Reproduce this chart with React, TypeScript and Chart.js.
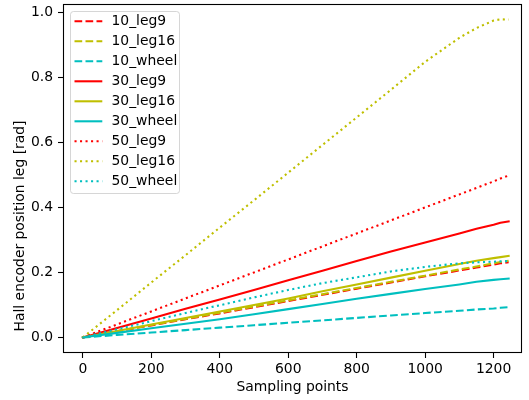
import React, { useEffect, useRef } from 'react';
import { Chart, registerables } from 'chart.js';

Chart.register(...registerables);

// ---- data ----
const xPoints = [0, 100, 200, 300, 400, 500, 600, 700, 800, 900, 1000, 1100, 1150, 1200, 1220, 1244];

const s10_leg9 = [0, 0.019, 0.037, 0.056, 0.074, 0.093, 0.112, 0.131, 0.150, 0.169, 0.188, 0.206, 0.215, 0.224, 0.228, 0.231];
const s10_leg16 = [0, 0.019, 0.038, 0.057, 0.076, 0.095, 0.114, 0.133, 0.152, 0.171, 0.190, 0.209, 0.218, 0.228, 0.232, 0.236];
const s10_wheel = [0, 0.0075, 0.015, 0.0225, 0.030, 0.0375, 0.045, 0.0525, 0.060, 0.0675, 0.075, 0.082, 0.086, 0.089, 0.091, 0.093];
const s30_leg9 = [0, 0.029, 0.058, 0.088, 0.117, 0.146, 0.176, 0.205, 0.235, 0.264, 0.292, 0.320, 0.334, 0.347, 0.353, 0.357];
const s30_leg16 = [0, 0.020, 0.040, 0.060, 0.080, 0.100, 0.120, 0.142, 0.163, 0.184, 0.205, 0.226, 0.236, 0.244, 0.247, 0.251];
const s30_wheel = [0, 0.014, 0.028, 0.042, 0.056, 0.071, 0.087, 0.103, 0.119, 0.134, 0.149, 0.163, 0.171, 0.177, 0.179, 0.181];
const s50_leg9 = [0, 0.040, 0.080, 0.120, 0.160, 0.200, 0.240, 0.280, 0.320, 0.360, 0.400, 0.440, 0.460, 0.480, 0.489, 0.498];
const s50_leg16 = [0, 0.084, 0.169, 0.253, 0.338, 0.422, 0.507, 0.592, 0.677, 0.762, 0.848, 0.922, 0.952, 0.975, 0.979, 0.978];
const s50_wheel = [0, 0.025, 0.050, 0.075, 0.099, 0.123, 0.146, 0.167, 0.185, 0.203, 0.217, 0.228, 0.231, 0.233, 0.234, 0.235];

const seriesLabels = ['10_leg9', '10_leg16', '10_wheel', '30_leg9', '30_leg16', '30_wheel', '50_leg9', '50_leg16', '50_wheel'];
const seriesValues = [s10_leg9, s10_leg16, s10_wheel, s30_leg9, s30_leg16, s30_wheel, s50_leg9, s50_leg16, s50_wheel];

const xTicks = [0, 200, 400, 600, 800, 1000, 1200];
const yTicks = [0.0, 0.2, 0.4, 0.6, 0.8, 1.0];

const xTitle = 'Sampling points';
const yTitle = 'Hall encoder position leg [rad]';

// ---- styles ----
const RED = '#ff0000';
const YEL = '#bfbf00';
const CYAN = '#00bfbf';
const colors = [RED, YEL, CYAN, RED, YEL, CYAN, RED, YEL, CYAN];
const LW = 2.08;
const DASHED = [7.7, 3.3];
const DOTTED = [2.08, 3.43];
const styleOf = (i: number) => (i < 3 ? 'dashed' : i < 6 ? 'solid' : 'dotted');
const dashOf = (s: string) => (s === 'dashed' ? DASHED : s === 'dotted' ? DOTTED : []);
const FONT = '"DejaVu Sans", sans-serif';
const FS = 13.9;

const decorPlugin = {
  id: 'decor',
  afterDraw(chart: any) {
    const ctx = chart.ctx as CanvasRenderingContext2D;
    const { left, right, top, bottom } = chart.chartArea;
    ctx.save();
    // spines
    ctx.strokeStyle = '#000';
    ctx.lineWidth = 1.1;
    ctx.setLineDash([]);
    const l = Math.round(left) + 0.5, t = Math.round(top) + 0.5;
    const r = Math.round(right) - 0.5, b = Math.round(bottom) - 0.5;
    ctx.strokeRect(l, t, r - l, b - t);

    // legend
    const lx = left + 7, ly = top + 7, lw = 109, lh = 182;
    ctx.beginPath();
    ctx.roundRect(lx + 0.5, ly + 0.5, lw, lh, 3);
    ctx.fillStyle = 'rgba(255,255,255,0.8)';
    ctx.fill();
    ctx.strokeStyle = 'rgba(204,204,204,0.8)';
    ctx.lineWidth = 1;
    ctx.stroke();
    ctx.font = `${FS}px ${FONT}`;
    ctx.textBaseline = 'middle';
    ctx.textAlign = 'left';
    chart.data.datasets.forEach((ds: any, i: number) => {
      const y = ly + 10.3 + i * 20;
      ctx.strokeStyle = ds.borderColor;
      ctx.lineWidth = LW;
      ctx.setLineDash(ds.borderDash || []);
      ctx.lineCap = ds.borderCapStyle;
      ctx.beginPath();
      const x0 = lx + 4.5, x1 = lx + 32.3;
      if (ds.borderCapStyle === 'square') {
        ctx.moveTo(x0 + LW / 2, y);
        ctx.lineTo(x1 - LW / 2, y);
      } else {
        ctx.moveTo(x0, y);
        ctx.lineTo(x1, y);
      }
      ctx.stroke();
      ctx.setLineDash([]);
      ctx.fillStyle = '#000';
      ctx.fillText(ds.label, lx + 41.5, y + 0.5);
    });

    // axis titles
    ctx.fillStyle = '#000';
    ctx.font = `${FS}px ${FONT}`;
    ctx.textAlign = 'center';
    ctx.textBaseline = 'middle';
    ctx.fillText(xTitle, (left + right) / 2, 387);
    ctx.translate(20, 226);
    ctx.rotate(-Math.PI / 2);
    ctx.fillText(yTitle, 0, 0);
    ctx.restore();
  },
};

export default function App() {
  const ref = useRef<HTMLCanvasElement | null>(null);
  useEffect(() => {
    document.body.style.margin = '0';
    const canvas = ref.current!;
    const datasets = seriesLabels.map((label, i) => {
      const st = styleOf(i);
      return {
        label,
        data: xPoints.map((x, k) => ({ x, y: seriesValues[i][k] })),
        borderColor: colors[i],
        backgroundColor: colors[i],
        borderWidth: LW,
        borderDash: dashOf(st),
        borderCapStyle: st === 'solid' ? 'square' : 'butt',
        borderJoinStyle: 'round',
        pointRadius: 0,
        tension: 0,
        fill: false,
        order: -i,
      };
    });
    const chart = new Chart(canvas, {
      type: 'line',
      data: { datasets } as any,
      options: {
        animation: false,
        responsive: false,
        devicePixelRatio: 1,
        layout: { padding: { top: 4, right: 7, left: 0, bottom: 0 } },
        plugins: { legend: { display: false }, tooltip: { enabled: false } },
        scales: {
          x: {
            type: 'linear',
            min: -58,
            max: 1283,
            afterFit: (s: any) => { s.height = 47; s.paddingLeft = 0; s.paddingRight = 0; },
            afterBuildTicks: (s: any) => { s.ticks = xTicks.map((v) => ({ value: v })); },
            ticks: {
              color: '#000',
              font: { family: FONT, size: FS },
              padding: 3,
              maxRotation: 0,
              callback: (v: any) => String(v),
            },
            grid: { drawOnChartArea: false, drawTicks: true, tickLength: 5, tickColor: '#000', tickWidth: 1.1 },
            border: { display: false },
          },
          y: {
            type: 'linear',
            min: -0.048,
            max: 1.026,
            afterFit: (s: any) => { s.width = 63; s.paddingTop = 0; s.paddingBottom = 0; },
            afterBuildTicks: (s: any) => { s.ticks = yTicks.map((v) => ({ value: v })); },
            ticks: {
              color: '#000',
              font: { family: FONT, size: FS },
              padding: 5,
              callback: (v: any) => Number(v).toFixed(1),
            },
            grid: { drawOnChartArea: false, drawTicks: true, tickLength: 5, tickColor: '#000', tickWidth: 1.1 },
            border: { display: false },
          },
        },
      } as any,
      plugins: [decorPlugin],
    });
    return () => chart.destroy();
  }, []);
  return (
    <div style={{ position: 'absolute', left: 0, top: 0, width: 529, height: 400, background: '#fff' }}>
      <canvas ref={ref} width={529} height={400} style={{ display: 'block', width: 529, height: 400 }} />
    </div>
  );
}
